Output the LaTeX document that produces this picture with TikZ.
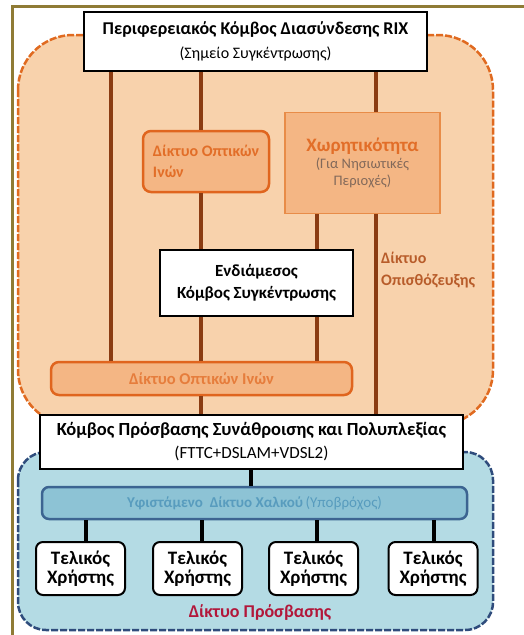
\documentclass[tikz,border=0pt]{standalone}
\usepackage{fontspec}
\setmainfont{Carlito}
\usepackage{tikz}
\usetikzlibrary{positioning, calc}
\definecolor{framegold}{RGB}{143,123,53}
\definecolor{peach}{RGB}{248,210,172}
\definecolor{dashorange}{RGB}{224,106,32}
\definecolor{fibfill}{RGB}{244,182,132}
\definecolor{fibedge}{RGB}{224,101,30}
\definecolor{fibtext}{RGB}{226,110,40}
\definecolor{bartext}{RGB}{230,125,60}
\definecolor{capedge}{RGB}{232,140,72}
\definecolor{capgrey}{RGB}{130,105,90}
\definecolor{linkbrown}{RGB}{139,60,18}
\definecolor{backtext}{RGB}{184,92,42}
\definecolor{accfill}{RGB}{180,219,228}
\definecolor{dashblue}{RGB}{47,76,124}
\definecolor{copfill}{RGB}{141,195,213}
\definecolor{copedge}{RGB}{60,100,145}
\definecolor{coptext}{RGB}{88,156,190}
\definecolor{accred}{RGB}{178,23,58}
\newcommand{\fsz}[2]{\fontsize{#1}{#2}\selectfont}
\tikzset{
  whitebox/.style={rectangle, draw=black, fill=white, line width=2pt,
    align=center, inner sep=0pt},
  fibbox/.style={rectangle, draw=fibedge, fill=fibfill, line width=2.5pt,
    rounded corners=8pt, text=fibtext, font=\bfseries, inner sep=0pt},
  capbox/.style={rectangle, draw=capedge, fill=fibfill, line width=1.5pt,
    align=center, inner sep=0pt},
  copbox/.style={rectangle, draw=copedge, fill=copfill, line width=2.5pt,
    rounded corners=7pt, text=coptext, inner sep=0pt},
  userbox/.style={rectangle, draw=black, fill=white, line width=2pt,
    rounded corners=7pt, minimum width=89pt, minimum height=53pt,
    align=center, inner sep=0pt, font=\bfseries\fsz{19}{18.5}},
  backhaul/.style={draw=dashorange, fill=peach, line width=2.5pt,
    dash pattern=on 7pt off 2pt, rounded corners=55pt},
  accessnet/.style={draw=dashblue, fill=accfill, line width=2.5pt,
    dash pattern=on 7pt off 2pt, rounded corners=28pt},
  link/.style={line width=3.5pt, color=linkbrown},
  blink/.style={line width=3.5pt, color=black}
}

\begin{document}
\begin{tikzpicture}[x=1pt, y=-1pt]
  \useasboundingbox (0,0) rectangle (523,635);

  % Frame and network areas
  \draw[framegold, line width=3pt] (12,636) -- (12,6) -- (524,6);
  \draw[backhaul] (18,35) rectangle (493,425);
  \draw[accessnet] (18,452) rectangle (493,630);

  % Line positions
  \coordinate (c1) at (111,0);
  \coordinate (c2) at (201,0);
  \coordinate (c3) at (317,0);
  \coordinate (c4) at (376,0);
  \coordinate (c5) at (251,0);

  % Nodes
  \node[whitebox, minimum width=343pt, minimum height=59pt, font=\fsz{16}{24.5}] (rix) at (255.5,41.5)
    {{\bfseries\fsz{18}{24}Περιφερειακός Κόμβος Διασύνδεσης RIX}\\
     (Σημείο Συγκέντρωσης)};
  \node[fibbox, minimum width=126pt, minimum height=61pt, align=left,
    font=\bfseries\fsz{16}{21}] (fibtop) at (206,161.5) {Δίκτυο Οπτικών\\Ινών};
  \node[capbox, minimum width=155pt, minimum height=101pt, font=\fsz{14.5}{17}] (cap) at (362.5,163)
    {{\color{fibtext}\bfseries\fsz{19}{17}Χωρητικότητα}\\
     {\color{capgrey}(Για Νησιωτικές}\\
     {\color{capgrey}Περιοχές)}};
  \node[whitebox, minimum width=193pt, minimum height=66pt,
    font=\bfseries\fsz{17}{22}] (mid) at (256.5,283) {Ενδιάμεσος\\Κόμβος Συγκέντρωσης};
  \node[anchor=north west, inner sep=0pt, align=left, text=backtext,
    font=\bfseries\fsz{16}{22}] (backlbl) at (381,252) {Δίκτυο\\Οπισθόζευξης};
  \node[fibbox, minimum width=301pt, minimum height=33pt, text=bartext,
    font=\bfseries\fsz{16.5}{17}] (fibbar) at (201.5,378.5) {Δίκτυο Οπτικών Ινών};
  \node[whitebox, minimum width=423pt, minimum height=54pt, font=\fsz{17}{23}] (acc) at (251.5,442)
    {{\bfseries\fsz{18.5}{23}Κόμβος Πρόσβασης Συνάθροισης και Πολυπλεξίας}\\
     (FTTC+DSLAM+VDSL2)};
  \node[copbox, minimum width=425pt, minimum height=32pt, font=\fsz{15}{17}] (cop) at (254.5,503)
    {\textbf{Υφιστάμενο\ \ Δίκτυο Χαλκού}\,(Υποβρόχος)};
  \foreach \cx/\lx [count=\i] in {80.5/86, 197.5/202, 313.5/317, 433/434} {
    \node[userbox] (u\i) at (\cx,568.5) {Τελικός\\Χρήστης};
    \draw[blink] (cop.south -| \lx,0) -- (u\i.north -| \lx,0);
  }
  \node[text=accred, font=\bfseries\fsz{18}{20}] (acclbl) at (260,613) {Δίκτυο Πρόσβασης};

  % Backhaul links
  \draw[link] (rix.south -| c1) -- (fibbar.north -| c1);
  \draw[link] (rix.south -| c2) -- (fibtop.north -| c2);
  \draw[link] (fibtop.south -| c2) -- (mid.north -| c2);
  \draw[link] (mid.south -| c2) -- (fibbar.north -| c2);
  \draw[link] (fibbar.south -| c2) -- (acc.north -| c2);
  \draw[link] (rix.south -| c4) -- (cap.north -| c4);
  \draw[link] (cap.south -| c4) -- (acc.north -| c4);
  \draw[link] (cap.south -| c3) -- (mid.north -| c3);
  \draw[link] (mid.south -| c3) -- (fibbar.north -| c3);

  % Access link
  \draw[blink] (acc.south -| c5) -- (cop.north -| c5);
\end{tikzpicture}
\end{document}
